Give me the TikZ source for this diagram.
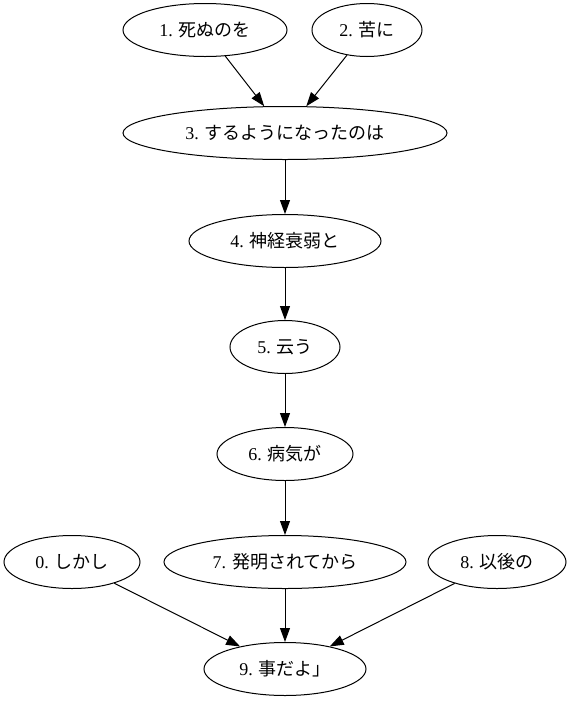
\documentclass[tikz,border=0pt]{standalone}
\usepackage{fontspec}
\setmainfont{Liberation Serif}
\newfontfamily\jp{Noto Sans CJK JP}
\usetikzlibrary{shapes.geometric,arrows.meta}

\begin{document}
\begin{tikzpicture}[>={Triangle[length=14pt,width=10pt]},x=1pt,y=-1pt,
el/.style={draw,ellipse,inner sep=0pt,minimum height=53pt,line width=1pt,
font=\fontsize{18}{21}\selectfont}]
\useasboundingbox (0,0) rectangle (570,705);
\node[el,minimum width=164pt] (n1) at (205,30) {1. \jp 死ぬのを};
\node[el,minimum width=110pt] (n2) at (367,30) {2. \jp 苦に};
\node[el,minimum width=324pt] (n3) at (285,133) {3. \jp するようになったのは};
\node[el,minimum width=192pt] (n4) at (285,241) {4. \jp 神経衰弱と};
\node[el,minimum width=110pt] (n5) at (285,347) {5. \jp 云う};
\node[el,minimum width=136pt] (n6) at (285,454) {6. \jp 病気が};
\node[el,minimum width=136pt] (n0) at (72,562) {0. \jp しかし};
\node[el,minimum width=242pt] (n7) at (285,562) {7. \jp 発明されてから};
\node[el,minimum width=138pt] (n8) at (497,562) {8. \jp 以後の};
\node[el,minimum width=162pt] (n9) at (285,669) {9. \jp 事だよ」};
\path[->,line width=1pt](n1) edge (n3);
\path[->,line width=1pt](n2) edge (n3);
\path[->,line width=1pt](n3) edge (n4);
\path[->,line width=1pt](n4) edge (n5);
\path[->,line width=1pt](n5) edge (n6);
\path[->,line width=1pt](n6) edge (n7);
\path[->,line width=1pt](n0) edge (n9);
\path[->,line width=1pt](n7) edge (n9);
\path[->,line width=1pt](n8) edge (n9);
\end{tikzpicture}
\end{document}
